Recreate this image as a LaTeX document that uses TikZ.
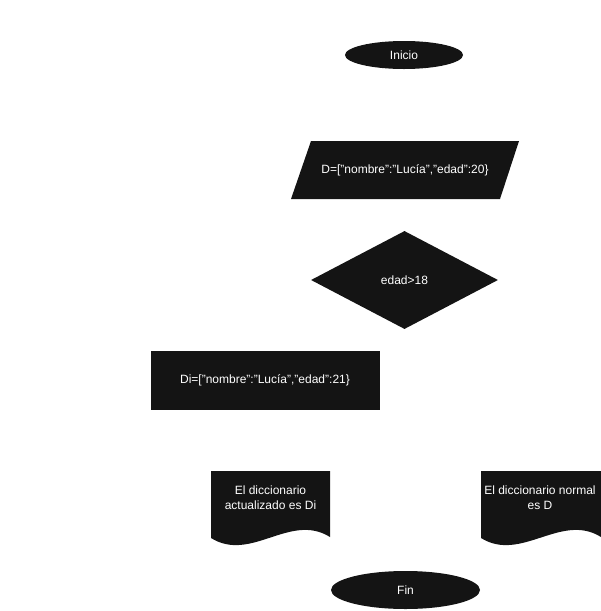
\documentclass[tikz,border=0pt]{standalone}
\usepackage{fontspec}
\setmainfont{Liberation Sans}
\usepackage{tikz}
\usetikzlibrary{positioning}
\usetikzlibrary{shapes,shapes.geometric}
\definecolor{boxfill}{RGB}{20,20,20}
\tikzstyle{base} = [fill=boxfill, draw=none, text=white, text centered, inner sep=0pt, font=\fontsize{12}{15}\selectfont]
\tikzstyle{startstop} = [base, ellipse]
\tikzstyle{decision} = [base, diamond, minimum width=187pt, minimum height=98pt]
\tikzstyle{process} = [base, rectangle, minimum width=229pt, minimum height=59pt]
\tikzstyle{shapetext} = [draw=none, fill=none, text=white, align=center, inner sep=0pt, font=\fontsize{12}{15}\selectfont]

\begin{document}
\begin{tikzpicture}[x=1pt, y=-1pt]
	\useasboundingbox (0,0) rectangle (601,611);
	% place nodes
	\node [startstop, minimum width=118pt, minimum height=28pt] (N1) at (404,55) {Inicio};
	\fill [boxfill] (311,141) -- (519,141) -- (500,199) -- (291,199) -- cycle;
	\node [shapetext] (N2) at (405,170) {D=["nombre":"Lucía","edad":20\}};
	\node [decision] (N3) at (404.5,280) {edad>18};
	\node [process] (N4) at (265,380) {Di=["nombre":"Lucía","edad":21\}};

	% document shapes
	\fill [boxfill] (211,471) -- (330,471) -- (330,537) .. controls (290,512) and (251,563) .. (211,538) -- cycle;
	\node [shapetext] (N5) at (270.5,498) {El diccionario\\actualizado es Di};
	\fill [boxfill] (481,471) -- (601,471) -- (601,537) .. controls (561,512) and (521,563) .. (481,538) -- cycle;
	\node [shapetext] (N6) at (540,498) {El diccionario normal\\es D};

	\node [startstop, minimum width=149pt, minimum height=38pt] (N7) at (405.5,590) {Fin};
\end{tikzpicture}
\end{document}
